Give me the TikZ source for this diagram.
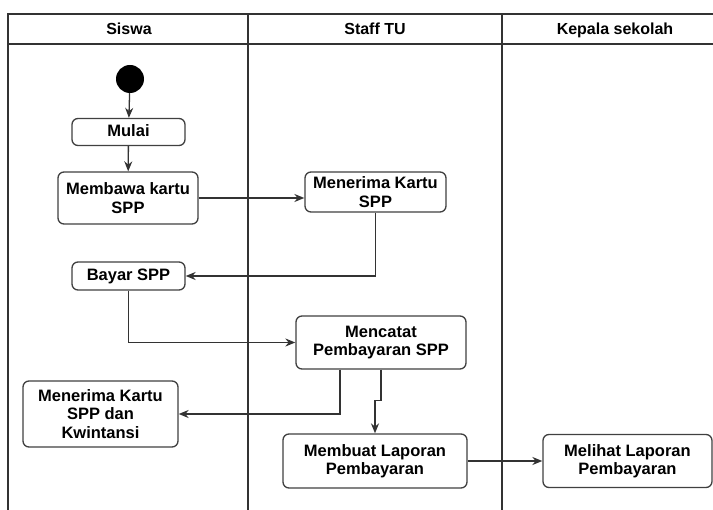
\documentclass[tikz,border=0pt]{standalone}
\usepackage{fontspec}
\setmainfont{Liberation Sans}
\usetikzlibrary{arrows.meta}

\begin{document}
\begin{tikzpicture}[x=1pt, y=-1pt,
    lane/.style={draw=black!80, line width=1.2pt},
    act/.style={draw=black!75, line width=1.3pt, rounded corners=6pt, fill=white, align=center,
      font=\fontsize{16.5}{18.5}\selectfont\bfseries, inner sep=2pt},
    single/.style={text height=12pt, text depth=3.5pt},
    flow/.style={draw=black!80, line width=1.3pt, -{Stealth[length=10pt,width=8pt]}},
    head/.style={font=\fontsize{16}{18}\selectfont\bfseries, anchor=base}]
  \useasboundingbox (0,0) rectangle (713,510);
  % swimlanes
  \draw[lane] (8,510) -- (8,14) -- (713,14);
  \draw[lane] (8,44) -- (713,44);
  \draw[lane] (248,14) -- (248,510);
  \draw[lane] (502,14) -- (502,510);
  \node[head] (hSiswa) at (129,35) {Siswa};
  \node[head] (hStaff) at (375,35) {Staff TU};
  \node[head] (hKepala) at (615,35) {Kepala sekolah};

  % activities
  \node[circle, fill=black, minimum size=28pt, inner sep=0pt] (start) at (130,79) {};
  \node[act, single, minimum width=113pt, minimum height=27pt] (mulai) at (128.5,132) {Mulai};
  \node[act, minimum width=140pt, minimum height=52pt] (membawa) at (128,198) {Membawa kartu\\SPP};
  \node[act, minimum width=141pt, minimum height=40pt] (terimaKartu) at (375.5,192) {Menerima Kartu\\SPP};
  \node[act, single, minimum width=113pt, minimum height=28pt] (bayar) at (128.5,276) {Bayar SPP};
  \node[act, minimum width=170pt, minimum height=53pt] (mencatat) at (381,342.5) {Mencatat\\Pembayaran SPP};
  \node[act, minimum width=155pt, minimum height=66pt] (terimaKwit) at (100.5,414) {Menerima Kartu\\SPP dan\\Kwintansi};
  \node[act, minimum width=184pt, minimum height=54pt] (laporan) at (375,461) {Membuat Laporan\\Pembayaran};
  \node[act, minimum width=169pt, minimum height=53pt] (melihat) at (627.5,461) {Melihat Laporan\\Pembayaran};

  % connectors
  \draw[flow] (start) -- (mulai);
  \draw[flow] (mulai) -- (membawa);
  \draw[flow] (membawa.east) -- (membawa.east -| terimaKartu.west);
  \draw[flow] (terimaKartu.south) |- (bayar.east);
  \draw[flow] (bayar.south) |- (mencatat.west);
  \draw[flow] ([xshift=-41pt]mencatat.south) |- (terimaKwit.east);
  \draw[flow] (mencatat.south) -- ++(0,31) -| (laporan.north);
  \draw[flow] (laporan) -- (melihat);
\end{tikzpicture}
\end{document}
